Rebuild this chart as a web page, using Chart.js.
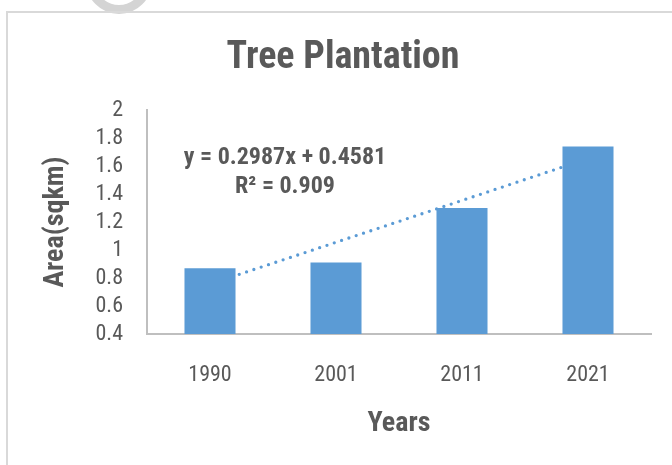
<!DOCTYPE html>
<html lang="en">
<head>
  <meta charset="UTF-8">
  <title>Tree Plantation</title>
  <script src="https://cdn.jsdelivr.net/npm/chart.js@4.4.1/dist/chart.umd.min.js"></script>
  <style>
    html, body { margin: 0; padding: 0; background: #fff; }
    #wrap { position: relative; width: 672px; height: 465px; overflow: hidden; }
    #frame { position: absolute; left: 6px; top: 11px; width: 700px; height: 500px;
             border-top: 2px solid #d9d9d9; border-left: 2px solid #d9d9d9; }
    #ring { position: absolute; left: 86px; top: -52px; width: 48px; height: 48px;
            border: 9px solid #d4d4d4; border-radius: 50%; }
    canvas { position: absolute; left: 0; top: 0; }
  </style>
</head>
<body>
  <div id="wrap">
    <div id="ring"></div>
    <div id="frame"></div>
    <canvas id="chart" width="672" height="465"></canvas>
  </div>
  <script>
    // data
    const years = ['1990', '2001', '2011', '2021'];
    const areaValues = [0.87, 0.91, 1.30, 1.74];
    // linear trend as shown by the equation label
    const trendValues = [0.757, 1.055, 1.354, 1.653];
    const equationLines = ['y = 0.2987x + 0.4581', 'R\u00b2 = 0.909'];
    const yMin = 0.4, yMax = 2, yStep = 0.2;

    const FONT = "'Liberation Sans Narrow', 'Roboto Condensed', 'Liberation Sans', sans-serif";
    const grey = '#595959';
    const blue = '#5b9bd5';

    // trendline equation text
    const eqLabel = {
      id: 'eqLabel',
      afterDraw(chart) {
        const { ctx, chartArea } = chart;
        ctx.save();
        ctx.fillStyle = grey;
        ctx.font = 'bold 24px ' + FONT;
        ctx.textAlign = 'center';
        ctx.textBaseline = 'middle';
        const cx = chartArea.left + 138;
        ctx.fillText(equationLines[0], cx, chartArea.top + 48);
        ctx.fillText(equationLines[1], cx, chartArea.top + 77);
        ctx.restore();
      }
    };

    new Chart(document.getElementById('chart'), {
      data: {
        labels: years,
        datasets: [
          {
            type: 'bar',
            data: areaValues,
            backgroundColor: blue,
            categoryPercentage: 1,
            barPercentage: 0.405,
            order: 1
          },
          {
            type: 'line',
            data: trendValues,
            borderColor: blue,
            borderWidth: 3.3,
            borderDash: [0, 7.7],
            borderCapStyle: 'round',
            pointRadius: 0,
            fill: false,
            tension: 0,
            order: 2
          }
        ]
      },
      options: {
        responsive: false,
        animation: false,
        layout: { padding: { left: 35, right: 21, top: 0, bottom: 0 } },
        plugins: {
          legend: { display: false },
          tooltip: { enabled: false },
          title: {
            display: true,
            text: 'Tree Plantation',
            color: grey,
            font: { family: FONT, size: 38, weight: 'bold' },
            padding: { top: 36, bottom: 28.4 }
          }
        },
        scales: {
          x: {
            grid: { display: false, drawTicks: false },
            border: { display: true, color: '#bfbfbf', width: 2 },
            ticks: { color: grey, padding: 28, font: { family: FONT, size: 22 } },
            title: {
              display: true, text: 'Years', color: grey,
              font: { family: FONT, size: 28, weight: 'bold' },
              padding: { top: 0, bottom: 24 }
            },
            afterFit(s) { s.height = 131; }
          },
          y: {
            min: yMin,
            max: yMax,
            grid: { display: false, drawTicks: false },
            border: { display: true, color: '#bfbfbf', width: 2 },
            ticks: {
              stepSize: yStep, autoSkip: false, color: grey, padding: 24,
              font: { family: FONT, size: 22 },
              callback: v => String(Math.round(v * 10) / 10)
            },
            title: {
              display: true, text: 'Area(sqkm)', color: grey,
              font: { family: FONT, size: 28, weight: 'bold' },
              padding: { top: 4, bottom: 0 }
            },
            afterFit(s) { s.width = 112; }
          }
        }
      },
      plugins: [eqLabel]
    });
  </script>
</body>
</html>
